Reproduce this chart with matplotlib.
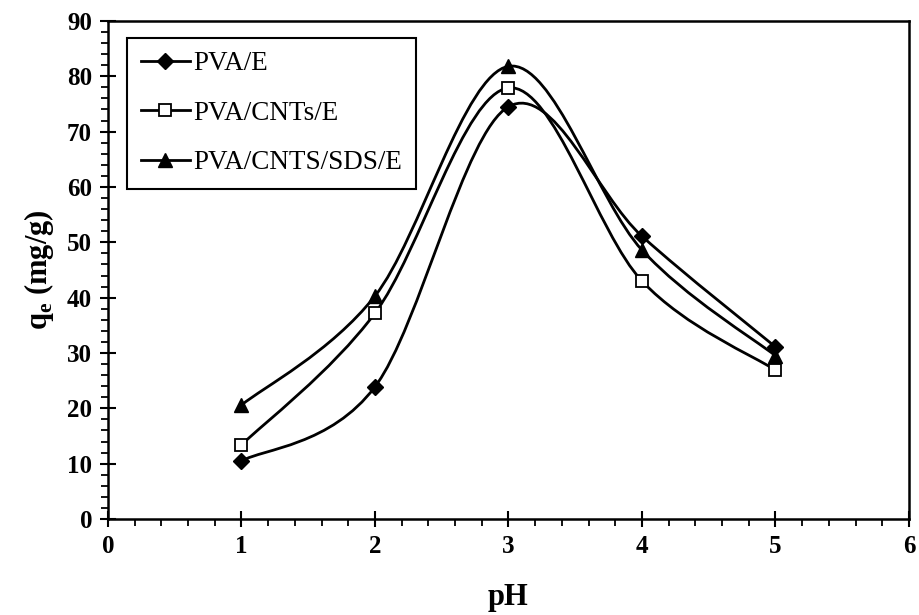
import numpy as np
import matplotlib
matplotlib.use('Agg')
import matplotlib.pyplot as plt
from matplotlib.path import Path
from matplotlib.patches import PathPatch
from matplotlib.lines import Line2D
from matplotlib.ticker import MultipleLocator

plt.rcParams['font.family'] = ['Liberation Serif', 'DejaVu Serif']

pH = [1, 2, 3, 4, 5]
q_pva = [10.5, 23.9, 74.5, 51.1, 31.1]
q_cnt = [13.4, 37.2, 77.9, 43.0, 26.9]
q_sds = [20.6, 40.3, 81.8, 48.6, 29.5]

labels = ['PVA/E', 'PVA/CNTs/E', 'PVA/CNTS/SDS/E']


def smooth_path(x, y):
    # excel style smoothed line: cubic bezier, catmull-rom control points
    p = np.column_stack([x, y]).astype(float)
    n = len(p)
    verts = [p[0]]
    codes = [Path.MOVETO]
    for i in range(n - 1):
        p0 = p[i - 1] if i > 0 else p[i]
        p1 = p[i]
        p2 = p[i + 1]
        p3 = p[i + 2] if i + 2 < n else p[i + 1]
        c1 = p1 + (p2 - p0) / 6
        c2 = p2 - (p3 - p1) / 6
        verts += [c1, c2, p2]
        codes += [Path.CURVE4] * 3
    return Path(verts, codes)


fig = plt.figure(figsize=(9.2, 6.15), dpi=100)
ax = fig.add_axes([0.1174, 0.156, 0.8706, 0.81])

styles = [
    dict(marker='D', ms=8.5, mfc='black', mec='black'),
    dict(marker='s', ms=9, mfc='white', mec='black', mew=1.3),
    dict(marker='^', ms=9.5, mfc='black', mec='black'),
]
series = [q_pva, q_cnt, q_sds]

handles = []
for yv, st, lab in zip(series, styles, labels):
    ax.add_patch(PathPatch(smooth_path(pH, yv), fc='none', ec='black', lw=2.0, zorder=2))
    ax.plot(pH, yv, linestyle='none', zorder=3, **st)
    handles.append(Line2D([], [], color='black', lw=2.0, **st))

ax.set_xlim(0, 6)
ax.set_ylim(0, 90)
ax.xaxis.set_major_locator(MultipleLocator(1))
ax.xaxis.set_minor_locator(MultipleLocator(0.2))
ax.yaxis.set_major_locator(MultipleLocator(10))
ax.yaxis.set_minor_locator(MultipleLocator(2))
ax.tick_params(which='major', direction='inout', length=11, width=1.5, labelsize=18, pad=6)
ax.tick_params(which='minor', direction='out', length=5, width=1.3)
for t in ax.get_xticklabels() + ax.get_yticklabels():
    t.set_fontweight('bold')
for s in ax.spines.values():
    s.set_linewidth(1.8)

ax.set_xlabel('pH', fontsize=22, fontweight='bold', labelpad=18)
ax.set_ylabel(r'q$_\mathregular{e}$ (mg/g)', fontsize=22, fontweight='bold', labelpad=8)

leg = ax.legend(handles, labels, loc='upper left', bbox_to_anchor=(0.024, 0.966),
                borderaxespad=0, fancybox=False, edgecolor='black', fontsize=19.5,
                handlelength=1.8, handletextpad=0.15, labelspacing=0.9, borderpad=0.5,
                framealpha=1)
leg.get_frame().set_linewidth(1.5)

fig.savefig('out.png', dpi=100)
